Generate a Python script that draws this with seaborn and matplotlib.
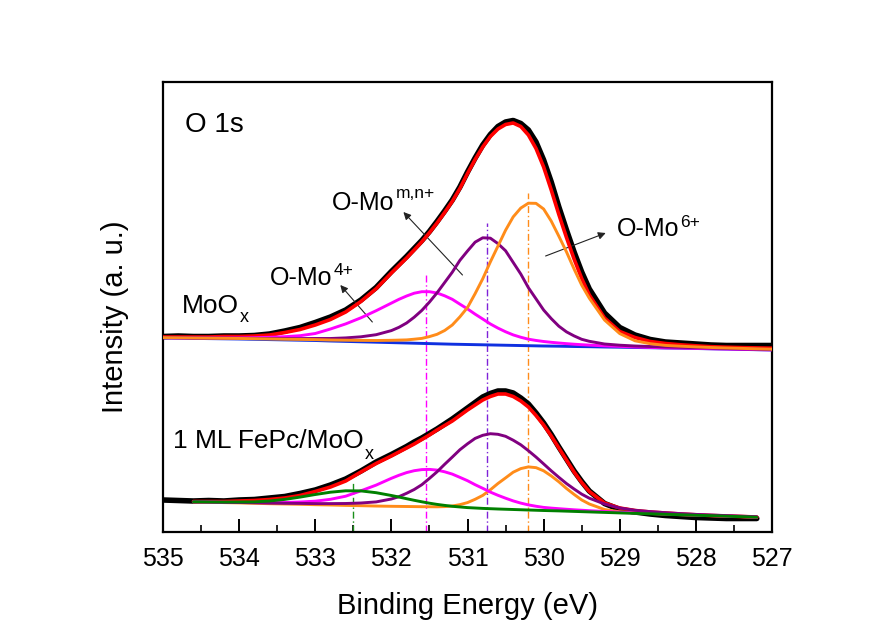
import matplotlib
matplotlib.use("Agg")
import matplotlib.pyplot as plt
from matplotlib.ticker import MultipleLocator
import seaborn as sns
import pandas as pd

# ---------------- data ----------------
# binding-energy sampling grid (eV); finer where the peaks are
energy = [535.0, 534.8, 534.6, 534.4, 534.2, 534.0, 533.8, 533.6, 533.4, 533.2,
          533.0, 532.8, 532.6, 532.4, 532.2, 532.0,
          531.9, 531.8, 531.7, 531.6, 531.5, 531.4, 531.3, 531.2, 531.1, 531.0,
          530.9, 530.8, 530.7, 530.6, 530.5, 530.4, 530.3, 530.2, 530.1, 530.0,
          529.9, 529.8, 529.7, 529.6, 529.5, 529.4,
          529.2, 529.0, 528.8, 528.6, 528.4, 528.2, 528.0, 527.8, 527.6, 527.4,
          527.2, 527.0]

# ---- MoOx (upper spectrum), intensity in arbitrary units ----
moox_data = [195.5, 196, 195.5, 195.5, 196, 196, 196.5, 198, 201, 204.5,
             209.5, 215, 222, 232, 244.5, 260.5,
             268, 275.5, 283.5, 291.5, 300.5, 310.5, 321, 332, 345, 360,
             374, 387, 397.5, 405.5, 410, 411.5, 408.5, 402, 390, 372,
             350, 325, 302, 280, 260, 243,
             219, 204.5, 197, 192.5, 190, 189, 188, 187, 186.5, 186.5, 186.5, 186.5]
moox_fit = [195, 195, 195, 195, 195.5, 195.5, 196, 197, 199.5, 202.5,
            207, 212.5, 220, 230.5, 243.3, 259,
            266.5, 274, 282, 290.2, 299.3, 309, 319.5, 330.6, 343.5, 358.5,
            372.5, 385, 395.5, 403, 407.5, 409, 405.5, 397, 383.5, 365,
            342, 317.5, 294.5, 273, 253.5, 237,
            214, 200.5, 194.5, 190.5, 188.5, 187.2, 186.2, 185.3, 184.8, 184.4, 184.1, 183.8]
moox_background = [194.0, 193.8, 193.6, 193.4, 193.2, 193.0, 192.7, 192.4, 192.1, 191.8,
                   191.5, 191.0, 190.6, 190.2, 189.8, 189.4,
                   189.2, 189.0, 188.8, 188.6, 188.4, 188.2, 188.0, 187.8, 187.65, 187.5,
                   187.35, 187.2, 187.05, 186.9, 186.75, 186.6, 186.45, 186.3, 186.15, 186.0,
                   185.9, 185.8, 185.65, 185.5, 185.4, 185.3,
                   185.0, 184.8, 184.5, 184.3, 184.0, 183.8, 183.5, 183.2, 182.9, 182.6, 182.3, 182.0]
# fitted components (height above the background)
moox_mo4 = [0.3, 0.3, 0.4, 0.6, 0.8, 1.1, 1.6, 2.3, 3.2, 4.5,
            7.0, 12.0, 17.5, 24.0, 31.5, 39.5,
            43.5, 47.0, 50.0, 51.7, 51.9, 50.8, 48.2, 44.9, 40.2, 35.6,
            30.5, 25.8, 21.0, 17.0, 13.5, 10.5, 8.3, 6.5, 5.4, 4.5,
            3.8, 3.2, 2.7, 2.3, 1.9, 1.6,
            1.1, 0.8, 0.5, 0.3, 0.2, 0.2, 0.1, 0.1, 0.1, 0.1, 0.1, 0.1]
moox_momn = [0.4, 0.5, 0.5, 0.6, 0.7, 0.8, 0.9, 1.1, 1.3, 1.6,
             2.0, 2.5, 3.5, 5.0, 7.5, 12.0,
             15.5, 20.0, 26.0, 33.0, 41.5, 51.0, 61.5, 72.0, 84.0, 93.5,
             102.5, 107.0, 106.8, 101.5, 94.5, 83.0, 71.5, 58.0, 47.0, 36.0,
             27.5, 20.0, 14.5, 10.6, 7.3, 5.4,
             3.0, 2.0, 1.5, 1.2, 1.0, 0.9, 0.8, 0.7, 0.6, 0.5, 0.5, 0.4]
moox_mo6 = [0.35, 0.4, 0.4, 0.45, 0.5, 0.55, 0.6, 0.65, 0.7, 0.8,
            0.9, 1.0, 1.2, 1.4, 1.7, 2.3,
            2.7, 3.1, 4.0, 5.0, 7.0, 9.5, 13.5, 19.2, 27.5, 37.0,
            51.0, 66.0, 83.0, 99.0, 115.0, 128.5, 137.5, 142.5, 142.5, 137.0,
            125.0, 110.0, 94.5, 77.5, 61.5, 48.5,
            27.0, 13.6, 6.7, 4.0, 2.6, 2.0, 1.6, 1.3, 1.1, 1.0, 0.9, 0.8]

# ---- 1 ML FePc/MoOx (lower spectrum) ----
fepc_data_energy = energy[:53]
fepc_data = [32, 31.5, 31, 31.5, 31, 32, 32.5, 34, 35.5, 38.5,
             42, 47, 53, 61, 70, 77.5,
             81.5, 85.5, 90, 94, 98.5, 103, 108, 113, 118.5, 124,
             129.5, 135, 138.5, 141, 141, 139, 134, 128, 119, 109,
             97.5, 85, 73, 61, 50.5, 41,
             28.5, 22.5, 20, 18, 16.5, 15.5, 14.5, 14, 13.5, 13.5, 13.5]
fepc_fit_energy = energy[2:53]
fepc_fit = [30.5, 30.5, 30.5, 31, 31.5, 32.5, 34, 36.5, 40.5, 45,
            51, 60, 68.5, 76,
            80, 84, 88, 92.5, 97, 102, 106.5, 111, 116.5, 122,
            127, 132, 135.5, 138, 138, 135.5, 131, 125, 116.5, 107,
            96, 84, 72, 60, 49.5, 40.5,
            29, 24, 21.5, 20, 19, 18, 17.2, 16.5, 16, 15.5, 15]
fepc_background = [30.0, 29.7, 29.3, 29.0, 28.6, 28.2, 27.9, 27.6, 27.2, 26.9,
                   26.5, 26.2, 25.8, 25.5,
                   25.35, 25.2, 25.0, 24.8, 24.6, 24.4, 24.2, 24.0, 23.75, 23.5,
                   23.3, 23.1, 22.9, 22.7, 22.5, 22.3, 22.1, 21.9, 21.65, 21.4,
                   21.2, 21.0, 20.75, 20.5, 20.25, 20.0,
                   19.5, 19.0, 18.5, 18.1, 17.6, 17.1, 16.6, 16.2, 15.7, 15.2, 14.7]
fepc_c = [0.2, 0.3, 0.6, 1.0, 1.5, 2.8, 4.7, 7.3, 10.3, 12.9,
          14.7, 14.9, 13.5, 11.0,
          9.6, 8.1, 6.7, 5.4, 4.2, 3.2, 2.4, 1.7, 1.3, 0.9,
          0.7, 0.5, 0.4, 0.3, 0.25, 0.2, 0.15, 0.1, 0.1, 0.1,
          0.1, 0.1, 0.1, 0.1, 0.1, 0.1,
          0.1, 0.1, 0.1, 0.1, 0.1, 0.1, 0.1, 0.1, 0.1, 0.1, 0.1]
fepc_mo4 = [0.2, 0.3, 0.4, 0.6, 0.9, 1.2, 1.6, 2.4, 3.6, 5.8,
            9.3, 15.0, 21.1, 28.2,
            31.4, 34.2, 36.3, 37.6, 38.0, 37.5, 36.0, 33.9, 30.9, 27.8,
            24.0, 20.6, 17.0, 14.0, 11.3, 8.8, 6.8, 5.2, 4.1, 3.2,
            2.7, 2.3, 2.0, 1.7, 1.5, 1.3,
            1.0, 0.8, 0.6, 0.5, 0.4, 0.3, 0.3, 0.2, 0.2, 0.2, 0.2]
fepc_momn = [0.3, 0.3, 0.4, 0.5, 0.6, 0.7, 0.8, 1.0, 1.2, 1.5,
             2.0, 2.8, 4.3, 7.5,
             10.0, 13.5, 17.5, 22.5, 29.0, 35.8, 43.5, 50.9, 58.5, 64.7,
             70.3, 73.6, 75.4, 75.0, 73.2, 69.5, 65.1, 59.4, 53.3, 46.7,
             40.0, 33.7, 27.7, 22.5, 17.6, 13.8,
             8.5, 5.0, 3.2, 2.3, 1.7, 1.3, 1.0, 0.8, 0.7, 0.6, 0.5]
fepc_mo6 = [0.1, 0.1, 0.1, 0.1, 0.1, 0.1, 0.1, 0.1, 0.1, 0.1,
            0.1, 0.1, 0.15, 0.2,
            0.25, 0.3, 0.4, 0.5, 0.65, 0.8, 1.2, 2.0, 3.6, 5.9,
            9.4, 13.5, 19.3, 25.8, 31.6, 37.5, 41.3, 43.2, 42.7, 39.8,
            34.9, 29.2, 22.8, 17.1, 11.8, 8.0,
            3.0, 1.2, 0.6, 0.4, 0.3, 0.2, 0.2, 0.2, 0.2, 0.2, 0.2]

# peak-position guide lines: energies and the height they reach
guide_energy = [531.55, 530.75, 530.2, 532.5]
guide_top = [259, 309, 339, 49]
guide_color = ["#FF00FF", "#7F22D8", "#FF8C1A", "#1A8F1A"]

x_ticks = [535, 534, 533, 532, 531, 530, 529, 528, 527]

# ---------------- styling ----------------
sns.set_theme(style="white")
plt.rcParams["font.family"] = ["Liberation Sans", "DejaVu Sans"]

RED = "#FF0000"
MAG = "#FF00FF"
PUR = "#800080"
ORA = "#FF8C1A"
BLU = "#1030E0"
GRN = "#008000"
LW_C = 2.1   # component line width
LW_F = 2.6   # fit line width
LW_D = 4.0   # data line width

fig = plt.figure(figsize=(8.78, 6.30), dpi=100)
ax = fig.add_axes([163 / 878, 1 - 532 / 630, 609 / 878, 450 / 630])


def add(x, base, peak, color, lw, z):
    y = [b + p for b, p in zip(base, peak)] if peak is not None else base
    df = pd.DataFrame({"E": x, "I": y})
    sns.lineplot(data=df, x="E", y="I", ax=ax, color=color, linewidth=lw,
                 errorbar=None, legend=False, zorder=z)


# upper spectrum
add(energy, moox_data, None, "black", LW_D, 3)
add(energy, moox_background, None, BLU, LW_C, 2)
add(energy, moox_fit, None, RED, LW_F, 4)
add(energy, moox_background, moox_mo4, MAG, LW_C, 5)
add(energy, moox_background, moox_momn, PUR, LW_C, 5)
add(energy, moox_background, moox_mo6, ORA, LW_C, 5)

# lower spectrum
add(fepc_data_energy, fepc_data, None, "black", LW_D, 3)
add(fepc_fit_energy, fepc_fit, None, RED, LW_F, 4)
add(fepc_fit_energy, fepc_background, fepc_mo6, ORA, LW_C, 5)
add(fepc_fit_energy, fepc_background, fepc_mo4, MAG, LW_C, 5)
add(fepc_fit_energy, fepc_background, fepc_momn, PUR, LW_C, 5)
add(fepc_fit_energy, fepc_background, fepc_c, GRN, LW_C, 6)

# guide lines
ax.vlines(guide_energy, 0, guide_top, colors=guide_color,
          linestyles=[(0, (5, 2, 1, 2))], linewidth=1.0, zorder=1)

# axes
ax.set_xlim(535, 527)
ax.set_ylim(0, 450)
ax.set_xticks(x_ticks)
ax.set_xticklabels([str(t) for t in x_ticks])
ax.xaxis.set_minor_locator(MultipleLocator(0.5))
ax.set_yticks([])
ax.tick_params(axis="x", which="major", direction="in", length=9.5, width=1.4,
               labelsize=18, pad=11, color="black", labelcolor="black",
               bottom=True, top=False)
ax.tick_params(axis="x", which="minor", direction="in", length=5, width=1.2,
               color="black", bottom=True, top=False)
for s in ax.spines.values():
    s.set_color("black")
    s.set_linewidth(1.6)
ax.set_xlabel("Binding Energy (eV)", fontsize=21, labelpad=15, color="black")
ax.set_ylabel("Intensity (a. u.)", fontsize=21, color="black")
ax.yaxis.set_label_coords(-0.056, 0.478)

# text labels
kw = dict(color="black", ha="left", va="baseline")


def label(x, y, main, fs, small, dy, sfs=12.5):
    t = ax.text(x, y, main, fontsize=fs, **kw)
    ax.annotate(small, xy=(1, 0), xycoords=t, xytext=(0.6, dy),
                textcoords="offset points", fontsize=sfs, **kw)


ax.text(534.711, 400, "O 1s", fontsize=20, **kw)
label(534.75, 219, "MoO", 19, "x", -3.2, 13)
label(534.868, 84, "1 ML FePc/MoO", 19, "x", -4.6, 13)
label(533.592, 247, "O-Mo", 18, "4+", 11.0)
label(532.776, 322, "O-Mo", 18, "m,n+", 12.4)
label(529.04, 296, "O-Mo", 18, "6+", 10.4)

arrow = dict(arrowstyle="-|>", color="#222222", lw=0.8, mutation_scale=11,
             shrinkA=0, shrinkB=0)
ax.annotate("", xy=(532.671, 247), xytext=(532.25, 210), arrowprops=arrow)
ax.annotate("", xy=(531.842, 320), xytext=(531.066, 257), arrowprops=arrow)
ax.annotate("", xy=(529.184, 299), xytext=(529.974, 276), arrowprops=arrow)

fig.savefig("out.png", dpi=100, facecolor="white")
